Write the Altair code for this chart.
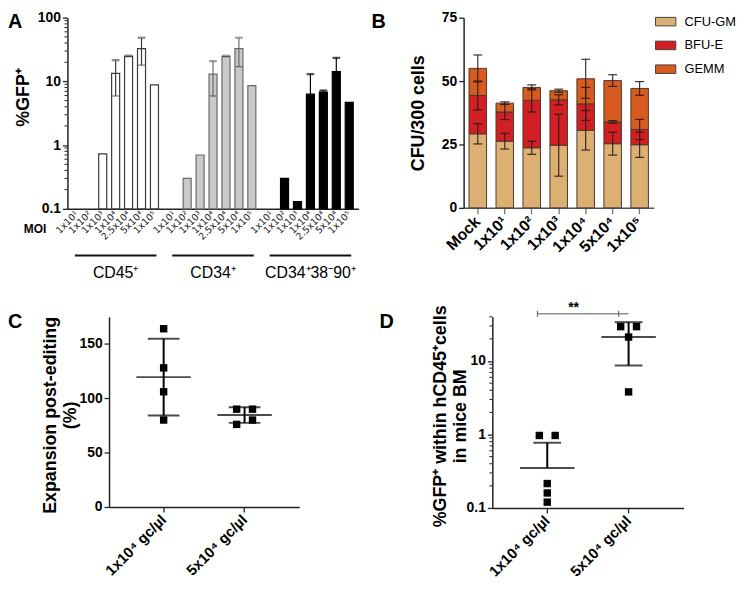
import altair as alt
import pandas as pd

FONT = "Liberation Sans"

# ---------------- Panel A data ----------------
moi_labels = ["1x10¹", "1x10²", "1x10³", "1x10⁴", "2.5x10⁴", "5x10⁴", "1x10⁵"]
cell_groups = ["CD45⁺", "CD34⁺", "CD34⁺38⁻90⁺"]
gfp_cd45 = [None, None, 0.73, 13.4, 24.8, 32.7, 8.8]
gfp_cd45_lo = [None, None, None, 5.9, 24.4, 18.0, None]
gfp_cd45_hi = [None, None, None, 21.5, 25.3, 48.5, None]
gfp_cd34 = [None, 0.30, 0.70, 13.0, 24.8, 32.7, 8.6]
gfp_cd34_lo = [None, None, None, 5.9, 24.4, 17.0, None]
gfp_cd34_hi = [None, None, None, 20.8, 25.3, 48.5, None]
gfp_sub = [None, 0.30, 0.13, 6.3, 6.8, 14.2, 4.7]
gfp_sub_lo = [None, None, None, None, None, None, None]
gfp_sub_hi = [None, None, None, 13.0, 7.2, 23.4, None]
log_minor_a = [0.2, 0.3, 0.4, 0.5, 0.6, 0.7, 0.8, 0.9, 2, 3, 4, 5, 6, 7, 8, 9,
               20, 30, 40, 50, 60, 70, 80, 90]

# ---------------- Panel B data ----------------
b_cats = ["Mock", "1x10¹", "1x10²", "1x10³", "1x10⁴", "5x10⁴", "1x10⁵"]
colony_types = ["CFU-GM", "BFU-E", "GEMM"]
cfu_gm = [29.2, 26.3, 23.7, 24.7, 30.6, 25.3, 24.9]
cfu_gm_sd = [4.0, 3.1, 2.6, 12.2, 7.8, 4.5, 5.0]
bfu_e = [15.1, 11.5, 18.7, 17.9, 10.4, 8.6, 6.0]
bfu_e_sd = [5.7, 3.0, 4.6, 2.0, 6.5, 0.5, 4.0]
gemm = [10.7, 3.5, 5.1, 3.6, 9.9, 16.3, 16.2]
gemm_sd = [5.3, 0.5, 1.0, 0.6, 7.7, 2.3, 2.7]

# ---------------- Panel C data ----------------
dose_cats = ["1x10⁴  gc/µl", "5x10⁴  gc/µl"]
expansion_low = [164, 128, 106, 80]
expansion_high = [90, 90, 76, 80]
jitter_c_low = [0, 0, 0, 0]
jitter_c_high = [-1, 1, -1, 1]
expansion_mean = [119.5, 84.6]
expansion_sd = [35.4, 7.2]

# ---------------- Panel D data ----------------
gfp_bm_low = [0.97, 0.97, 0.215, 0.16, 0.12]
gfp_bm_high = [29.4, 29.4, 21.2, 3.8]
jitter_d_low = [-1, 1, 0, 0, 0]
jitter_d_high = [-1, 1, 0, 0]
gfp_bm_mean = [0.35, 21.2]
gfp_bm_lo = [None, 8.7]
gfp_bm_hi = [0.77, 33.8]
log_minor_d = [0.2, 0.3, 0.4, 0.5, 0.6, 0.7, 0.8, 0.9, 2, 3, 4, 5, 6, 7, 8, 9, 20, 30, 40]


def yaxis(values, title, tx, ty, fmt=None, offset=0):
    kw = dict(values=values, title=title, titleX=tx, titleY=ty, titleAngle=270,
              titleAlign="center", titleBaseline="middle", titleFontSize=18,
              titleFontWeight="bold", titleColor="black", titleFont=FONT,
              labelFontSize=14, labelFontWeight="bold", labelColor="black",
              labelFont=FONT, labelPadding=2, tickSize=5, tickColor="#222",
              tickWidth=1.3, domainColor="#222", domainWidth=1.5, grid=False)
    if fmt:
        kw["format"] = fmt
    if offset:
        kw["offset"] = offset
    return alt.Axis(**kw)


def text_layer(txt, x, y, size=20, weight="bold", align="left"):
    return alt.Chart(pd.DataFrame({"t": [txt]})).mark_text(
        fontSize=size, fontWeight=weight, align=align, baseline="middle",
        font=FONT, color="black").encode(x=alt.value(x), y=alt.value(y), text="t:N")


# ================= Panel A =================
WA, HA = 294, 193
rows = []
for g, vals, los, his in zip(cell_groups, [gfp_cd45, gfp_cd34, gfp_sub],
                             [gfp_cd45_lo, gfp_cd34_lo, gfp_sub_lo],
                             [gfp_cd45_hi, gfp_cd34_hi, gfp_sub_hi]):
    for m, v, lo, hi in zip(moi_labels, vals, los, his):
        rows.append({"group": g, "moi": m, "value": v, "lo": lo, "hi": hi,
                     "lo_rule": lo if lo is not None else v})
dfA = pd.DataFrame(rows)

scaleA = alt.Scale(type="log", domain=[0.1, 100], nice=False)
axisA = yaxis([0.1, 1, 10, 100], "%GFP⁺", -44, 80, fmt="~g")
xA = alt.X("group:N", sort=cell_groups,
           scale=alt.Scale(domain=cell_groups, paddingInner=0.07, paddingOuter=0.03),
           axis=alt.Axis(title=None, labels=False, ticks=False, domainColor="#222",
                         domainWidth=1.5))
xoffA = alt.XOffset("moi:N", scale=alt.Scale(domain=moi_labels, paddingInner=0.38,
                                              paddingOuter=0.19))
fillA = alt.Fill("group:N", scale=alt.Scale(domain=cell_groups,
                                            range=["#ffffff", "#c9c9c9", "#000000"]),
                 legend=None)
strokeA = alt.Stroke("group:N", scale=alt.Scale(domain=cell_groups,
                                                range=["#3a3a3a", "#6a6a6a", "#000000"]),
                     legend=None)

baseA = alt.Chart(dfA)
barsA = baseA.transform_filter("isValid(datum.value)").mark_bar(strokeWidth=1.2).encode(
    x=xA, xOffset=xoffA, y=alt.Y("value:Q", scale=scaleA, axis=axisA),
    y2=alt.datum(0.1), fill=fillA, stroke=strokeA)
errA = baseA.transform_filter("isValid(datum.hi)").mark_rule(strokeWidth=1.2).encode(
    x=xA, xOffset=xoffA, y=alt.Y("lo_rule:Q", scale=scaleA, axis=axisA), y2="hi:Q",
    stroke=strokeA)
capHiA = baseA.transform_filter("isValid(datum.hi)").mark_tick(
    size=7, thickness=1.2, orient="horizontal").encode(
    x=xA, xOffset=xoffA, y=alt.Y("hi:Q", scale=scaleA, axis=axisA), stroke=strokeA,
    fill=fillA)
capLoA = baseA.transform_filter("isValid(datum.lo)").mark_tick(
    size=7, thickness=1.2, orient="horizontal", color="#3a3a3a").encode(
    x=xA, xOffset=xoffA, y=alt.Y("lo:Q", scale=scaleA, axis=axisA))
minorA = alt.Chart(pd.DataFrame({"v": log_minor_a})).mark_rule(
    color="#222", strokeWidth=1).encode(
    x=alt.value(-3), x2=alt.value(0), y=alt.Y("v:Q", scale=scaleA, axis=axisA))
moiText = baseA.mark_text(angle=315, align="right", baseline="middle", fontSize=9.5,
                          font="DejaVu Sans", color="#222").encode(
    x=xA, xOffset=xoffA, y=alt.value(HA + 4), text="moi:N")
dfG = pd.DataFrame({"group": cell_groups})
underline = alt.Chart(dfG).mark_bar(width=alt.RelativeBandSize(0.9), color="#111").encode(
    x=xA, y=alt.value(HA + 46), y2=alt.value(HA + 48))
groupText = alt.Chart(dfG).mark_text(fontSize=16, font=FONT, color="black",
                                     baseline="middle").encode(
    x=xA, y=alt.value(HA + 65), text="group:N")

panelA = alt.layer(barsA, errA, capHiA, capLoA, minorA, moiText, underline, groupText,
                   text_layer("MOI", -44, HA + 20, size=12),
                   text_layer("A", -60, 4)).properties(width=WA, height=HA)

# ================= Panel B =================
WB, HB = 192, 192
rowsB = []
for i, c in enumerate(b_cats):
    top = 0
    for k, (t, vals, sds) in enumerate(zip(colony_types, [cfu_gm, bfu_e, gemm],
                                            [cfu_gm_sd, bfu_e_sd, gemm_sd])):
        top += vals[i]
        rowsB.append({"cat": c, "type": t, "value": vals[i], "ord": k,
                      "lo": top - sds[i], "hi": top + sds[i]})
dfB = pd.DataFrame(rowsB)

scaleB = alt.Scale(domain=[0, 75], nice=False)
axisB = yaxis([0, 25, 50, 75], "CFU/300 cells", -45, HB / 2)
xB = alt.X("cat:N", sort=b_cats,
           scale=alt.Scale(domain=b_cats, paddingInner=0.35, paddingOuter=0.2),
           axis=alt.Axis(title=None, labelAngle=-45, labelAlign="right",
                         labelBaseline="middle", labelFontSize=16, labelFontWeight="bold",
                         labelColor="black", labelFont=FONT, labelPadding=5, tickSize=6,
                         tickColor="#777", tickWidth=1.3, domainColor="#555",
                         domainWidth=1.5))
baseB = alt.Chart(dfB)
barsB = baseB.mark_bar(stroke="#4a3a30", strokeWidth=1).encode(
    x=xB, y=alt.Y("value:Q", stack="zero", scale=scaleB, axis=axisB),
    color=alt.Color("type:N", sort=colony_types,
                    scale=alt.Scale(domain=colony_types,
                                    range=["#dcb073", "#d11f24", "#d75a1e"]),
                    legend=alt.Legend(title=None, orient="none", legendX=WB + 1,
                                      legendY=-7,
                                      symbolType="M-1,-0.42H1V0.42H-1Z", symbolSize=420,
                                      symbolStrokeColor="#444", symbolStrokeWidth=1,
                                      symbolOpacity=1,
                                      labelFontSize=13, labelFont=FONT,
                                      labelColor="black", labelOffset=8, rowPadding=6)),
    order=alt.Order("ord:Q"))
errB = baseB.mark_rule(strokeWidth=1.2, color="#2a1a1a", opacity=0.9).encode(
    x=xB, y=alt.Y("lo:Q", scale=scaleB, axis=axisB), y2="hi:Q")
capHiB = baseB.mark_tick(size=9, thickness=1.2, orient="horizontal", color="#2a1a1a",
                         opacity=0.9).encode(
    x=xB, y=alt.Y("hi:Q", scale=scaleB, axis=axisB))
capLoB = baseB.mark_tick(size=9, thickness=1.2, orient="horizontal", color="#2a1a1a",
                         opacity=0.9).encode(
    x=xB, y=alt.Y("lo:Q", scale=scaleB, axis=axisB))
panelB = alt.layer(barsB, errB, capHiB, capLoB,
                   text_layer("B", -93, 4)).properties(width=WB, height=HB)


# ================= helpers for C / D =================
dose_axis = alt.Axis(title=None, labelAngle=-45, labelAlign="right",
                     labelBaseline="middle", labelFontSize=15,
                     labelFontWeight="bold", labelColor="black", labelFont=FONT,
                     labelPadding=5, tickSize=5, tickColor="#222",
                     tickWidth=1.3, domainColor="#222", domainWidth=1.5)


def make_dose_x(scale):
    def dose_x(field="grp"):
        return alt.X(f"{field}:N", sort=dose_cats, scale=scale, axis=dose_axis)
    return dose_x


def scatter_layers(df, scale, axis, dose_x):
    out = []
    for s in (-1, 0, 1):
        out.append(alt.Chart(df).transform_filter(f"datum.side == {s}").mark_square(
            size=56, color="black", opacity=1, xOffset=s * 8).encode(
            x=dose_x(), y=alt.Y("val:Q", scale=scale, axis=axis)))
    return out


def summary_layers(df, scale, axis, dose_x, cap=30):
    mean = alt.Chart(df).mark_tick(size=55, thickness=2, color="black",
                                   orient="horizontal").encode(
        x=dose_x(), y=alt.Y("mean:Q", scale=scale, axis=axis))
    rule = alt.Chart(df).mark_rule(strokeWidth=2, color="black").encode(
        x=dose_x(), y=alt.Y("lo_rule:Q", scale=scale, axis=axis), y2="hi:Q")
    capHi = alt.Chart(df).mark_tick(size=cap, thickness=2, color="black",
                                    orient="horizontal").encode(
        x=dose_x(), y=alt.Y("hi:Q", scale=scale, axis=axis))
    capLo = alt.Chart(df).transform_filter("isValid(datum.lo)").mark_tick(
        size=cap, thickness=2, color="black", orient="horizontal").encode(
        x=dose_x(), y=alt.Y("lo:Q", scale=scale, axis=axis))
    return [rule, mean, capHi, capLo]


# ================= Panel C =================
# panel C's plot is shifted right inside its cell (plot starts SHIFT_C px in)
SHIFT_C = 42
WC, HC = 192, 192
dose_x_c = make_dose_x(alt.Scale(domain=dose_cats, range=[SHIFT_C, SHIFT_C + WC],
                                 paddingInner=0.5, paddingOuter=0.425))
dfC = pd.DataFrame(
    [{"grp": dose_cats[0], "val": v, "side": s} for v, s in zip(expansion_low, jitter_c_low)] +
    [{"grp": dose_cats[1], "val": v, "side": s} for v, s in zip(expansion_high, jitter_c_high)])
dfCs = pd.DataFrame({"grp": dose_cats, "mean": expansion_mean,
                     "lo": [m - s for m, s in zip(expansion_mean, expansion_sd)],
                     "hi": [m + s for m, s in zip(expansion_mean, expansion_sd)]})
dfCs["lo_rule"] = dfCs["lo"]
scaleC = alt.Scale(domain=[0, 175], nice=False)
axisC = yaxis([0, 50, 100, 150], ["Expansion post-editing", "(%)"], -59, HC / 2 + 3,
              offset=-SHIFT_C)
panelC = alt.layer(*scatter_layers(dfC, scaleC, axisC, dose_x_c),
                   *summary_layers(dfCs, scaleC, axisC, dose_x_c, cap=32),
                   text_layer("C", -60, 5)).properties(width=WC + SHIFT_C, height=HC)

# ================= Panel D =================
WD, HD = 193, 193
dose_x_d = make_dose_x(alt.Scale(domain=dose_cats, paddingInner=0.5, paddingOuter=0.425))
dfD = pd.DataFrame(
    [{"grp": dose_cats[0], "val": v, "side": s} for v, s in zip(gfp_bm_low, jitter_d_low)] +
    [{"grp": dose_cats[1], "val": v, "side": s} for v, s in zip(gfp_bm_high, jitter_d_high)])
dfDs = pd.DataFrame({"grp": dose_cats, "mean": gfp_bm_mean, "lo": gfp_bm_lo,
                     "hi": gfp_bm_hi})
dfDs["lo_rule"] = [lo if lo is not None else m for lo, m in zip(gfp_bm_lo, gfp_bm_mean)]
scaleD = alt.Scale(type="log", domain=[0.1, 40], nice=False)
axisD = yaxis([0.1, 1, 10], ["%GFP⁺ within hCD45⁺cells", "in mice BM"], -52, 100, fmt="~g")
minorD = alt.Chart(pd.DataFrame({"v": log_minor_d})).mark_rule(
    color="#222", strokeWidth=1).encode(
    x=alt.value(-3), x2=alt.value(0), y=alt.Y("v:Q", scale=scaleD, axis=axisD))
bracket = alt.Chart(pd.DataFrame({"grp": [dose_cats[0]], "b": [dose_cats[1]]})).mark_rule(
    color="#555", strokeWidth=1, xOffset=-10).encode(
    x=dose_x_d(), x2="b:N", y=alt.value(-3))
bracketEnds = alt.Chart(pd.DataFrame({"grp": dose_cats})).mark_rule(
    color="#555", strokeWidth=1, xOffset=-10).encode(
    x=dose_x_d(), y=alt.value(-6), y2=alt.value(0))
stars = text_layer("**", 82, -9, size=14, align="center")
panelD = alt.layer(*scatter_layers(dfD, scaleD, axisD, dose_x_d),
                   *summary_layers(dfDs, scaleD, axisD, dose_x_d, cap=28),
                   minorD, bracket, bracketEnds, stars,
                   text_layer("D", -114, 5)).properties(width=WD, height=HD)

indep = dict(color="independent", fill="independent", stroke="independent")
chart = alt.vconcat(
    alt.hconcat(panelA, panelB, spacing=13).resolve_scale(**indep),
    alt.hconcat(panelC, panelD, spacing=81).resolve_scale(**indep),
    spacing=20,
).resolve_scale(**indep).properties(
    padding=0
).configure_view(stroke=None).configure_text(font=FONT)

chart.save("out.html", embed_options={"renderer": "svg", "actions": False})
